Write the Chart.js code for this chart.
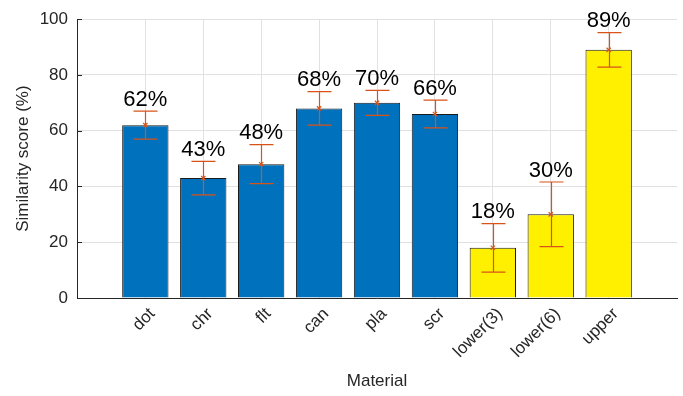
<!DOCTYPE html>
<html>
<head>
<meta charset="utf-8">
<script src="https://cdn.jsdelivr.net/npm/chart.js@4/dist/chart.umd.min.js"></script>
<style>
  html, body { margin: 0; padding: 0; background: #fff; }
  #wrap { width: 683px; height: 396px; position: relative; }
</style>
</head>
<body>
<div id="wrap"><canvas id="c" width="683" height="396"></canvas></div>
<script>
// ---- data ----
const categories = ['dot', 'chr', 'flt', 'can', 'pla', 'scr', 'lower(3)', 'lower(6)', 'upper'];
const scores     = [62, 43, 48, 68, 70, 66, 18, 30, 89];
const errors     = [5, 6, 7, 6, 4.5, 5, 8.7, 11.6, 6.2];
const groups     = ['material', 'material', 'material', 'material', 'material', 'material', 'bound', 'bound', 'bound'];
const yTicks     = [0, 20, 40, 60, 80, 100];

// ---- styles ----
const groupColor = { material: '#0072BD', bound: '#FFF000' };
const errColor = '#D95319';
const FONT = "'Liberation Sans', Arial, Helvetica, sans-serif";
const axisColor = '#262626';
const gridColor = '#e1e1e1';

const errorBarPlugin = {
  id: 'errorBars',
  afterDatasetsDraw(chart) {
    const ctx = chart.ctx;
    const xs = chart.scales.x, ys = chart.scales.y;
    ctx.save();
    ctx.strokeStyle = errColor;
    ctx.lineWidth = 1.2;
    scores.forEach((v, i) => {
      const x = Math.round(xs.getPixelForValue(i)) + 0.5;
      const yt = ys.getPixelForValue(v + errors[i]);
      const yb = ys.getPixelForValue(v - errors[i]);
      ctx.beginPath();
      ctx.moveTo(x, yt); ctx.lineTo(x, yb);
      ctx.moveTo(x - 12, yt); ctx.lineTo(x + 12, yt);
      ctx.moveTo(x - 12, yb); ctx.lineTo(x + 12, yb);
      ctx.stroke();
    });
    // percent labels
    ctx.fillStyle = '#000';
    ctx.font = '22px ' + FONT;
    ctx.textAlign = 'center';
    ctx.textBaseline = 'alphabetic';
    scores.forEach((v, i) => {
      const x = xs.getPixelForValue(i);
      const yt = ys.getPixelForValue(v + errors[i]);
      ctx.fillText(v + '%', x, yt - 5.5);
    });
    // inward tick marks on y axis
    ctx.strokeStyle = axisColor;
    ctx.lineWidth = 1;
    yTicks.forEach(t => {
      const y = Math.round(ys.getPixelForValue(t)) + 0.5;
      ctx.beginPath();
      ctx.moveTo(xs.left, y); ctx.lineTo(xs.left + 5, y);
      ctx.stroke();
    });
    ctx.restore();
  }
};

new Chart(document.getElementById('c'), {
  type: 'bar',
  data: {
    datasets: [
      {
        type: 'line',
        data: scores.map((v, i) => ({ x: i, y: v })),
        showLine: false,
        pointStyle: 'crossRot',
        pointRadius: 3,
        pointBorderColor: errColor,
        pointBackgroundColor: errColor,
        pointBorderWidth: 1.2,
        order: 0
      },
      {
        type: 'bar',
        data: scores.map((v, i) => ({ x: i, y: v })),
        backgroundColor: groups.map(g => groupColor[g]),
        borderColor: '#1a1a1a',
        borderWidth: 1,
        categoryPercentage: 0.8,
        barPercentage: 1,
        order: 1
      }
    ]
  },
  options: {
    responsive: false,
    animation: false,
    events: [],
    layout: { padding: { left: 0, right: 6, top: 17, bottom: 0 } },
    plugins: { legend: { display: false }, tooltip: { enabled: false } },
    scales: {
      x: {
        type: 'linear',
        offset: false,
        min: -1.18,
        max: 9.18,
        afterBuildTicks(scale) { scale.ticks = categories.map((c, i) => ({ value: i })); },
        afterFit(scale) { scale.height = 98; },
        ticks: {
          autoSkip: false,
          maxRotation: 45,
          minRotation: 45,
          padding: 6,
          labelOffset: 7,
          color: axisColor,
          font: { family: FONT, size: 17 },
          callback: (v) => categories[v]
        },
        grid: { color: gridColor, drawTicks: false, lineWidth: 1, offset: false },
        border: { display: true, color: axisColor, width: 1 },
        title: {
          display: true,
          text: 'Material',
          color: axisColor,
          font: { family: FONT, size: 17 },
          padding: { top: 0, bottom: 4 }
        }
      },
      y: {
        min: 0,
        max: 100,
        afterBuildTicks(scale) { scale.ticks = yTicks.map(v => ({ value: v })); },
        afterFit(scale) { scale.width = 77; },
        ticks: {
          padding: 9,
          color: axisColor,
          font: { family: FONT, size: 17 }
        },
        grid: { color: gridColor, drawTicks: false, lineWidth: 1 },
        border: { display: true, color: axisColor, width: 1 },
        title: {
          display: true,
          text: 'Similarity score (%)',
          color: axisColor,
          font: { family: FONT, size: 17 },
          padding: { top: 13, bottom: 0 }
        }
      }
    }
  },
  plugins: [errorBarPlugin]
});
</script>
</body>
</html>
